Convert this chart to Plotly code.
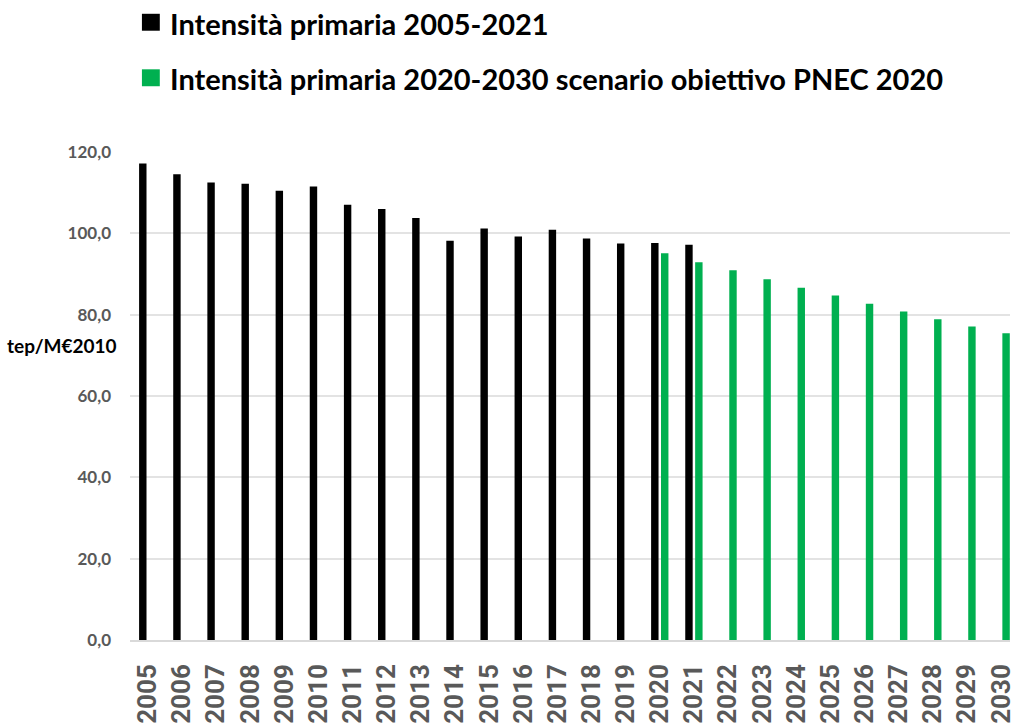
import plotly.graph_objects as go

# Primary energy intensity (tep per M€2010)
years_hist = list(range(2005, 2022))
intensity_hist = [117.2, 114.5, 112.5, 112.2, 110.5, 111.5, 107.0, 106.0, 103.8,
                  98.2, 101.2, 99.2, 100.9, 98.7, 97.5, 97.6, 97.2]

years_target = list(range(2020, 2031))
intensity_target = [95.1, 92.9, 90.9, 88.7, 86.6, 84.7, 82.7, 80.8, 78.9, 77.1, 75.4]

all_years = list(range(2005, 2031))
year_labels = [str(y) for y in all_years]
y_ticks = [0, 20, 40, 60, 80, 100, 120]

series = [
    ("Intensità primaria 2005-2021", "#000000", years_hist, intensity_hist),
    ("Intensità primaria 2020-2030 scenario obiettivo PNEC 2020", "#00B050",
     years_target, intensity_target),
]

fig = go.Figure()
for name, color, xs, ys in series:
    fig.add_trace(go.Bar(x=xs, y=ys, name=name,
                         marker=dict(color=color, line=dict(width=0)),
                         showlegend=False))

fig.update_layout(
    width=1016, height=724,
    margin=dict(l=130, r=0, t=152, b=82),
    paper_bgcolor="white", plot_bgcolor="white",
    barmode="group", bargap=0.42, bargroupgap=0.25,
    separators=",.",
    xaxis=dict(range=[2004.48, 2030.26], tickmode="array",
               tickvals=all_years, ticktext=year_labels, tickangle=-90,
               showgrid=False, zeroline=False,
               showline=True, linecolor="#d9d9d9", linewidth=1.5,
               ticks="", ticklabelstandoff=12, ticklabeloverflow="allow",
               tickfont=dict(family="Roboto, sans-serif", size=26,
                             color="#595959", weight="bold")),
    yaxis=dict(range=[0, 120], tickmode="array", tickvals=y_ticks,
               tickformat=".1f", showgrid=True, gridcolor="#e3e3e3",
               gridwidth=1.5, zeroline=False, showline=False, ticks="",
               ticklabelstandoff=18,
               tickfont=dict(family="Lato, sans-serif", size=17,
                             color="#595959", weight="bold")),
)

# Legend drawn as swatch + label rows above the plot
legend_rows_y = [0.0300, 0.1070]  # fraction of figure height from top
for (name, color, _, _), ry in zip(series, legend_rows_y):
    yc = 1 - ry
    fig.add_shape(type="rect", xref="paper", yref="paper",
                  x0=(142 - 130) / 886, x1=(160 - 130) / 886,
                  y0=(yc * 724 - 82 - 8.5) / 490, y1=(yc * 724 - 82 + 8.5) / 490,
                  fillcolor=color, line=dict(width=0))
    fig.add_annotation(text=name, xref="paper", yref="paper",
                       x=(168 - 130) / 886, y=(yc * 724 - 82 - 1) / 490,
                       xanchor="left", yanchor="middle", showarrow=False,
                       font=dict(family="Lato, sans-serif", size=29,
                                 color="#000000", weight="bold"))

fig.add_annotation(text="tep/M€2010", xref="paper", yref="y",
                   x=-0.012, y=72.5, xanchor="right", yanchor="middle",
                   showarrow=False,
                   font=dict(family="Lato, sans-serif", size=19,
                             color="#000000", weight="bold"))

fig.write_html("out.html")
